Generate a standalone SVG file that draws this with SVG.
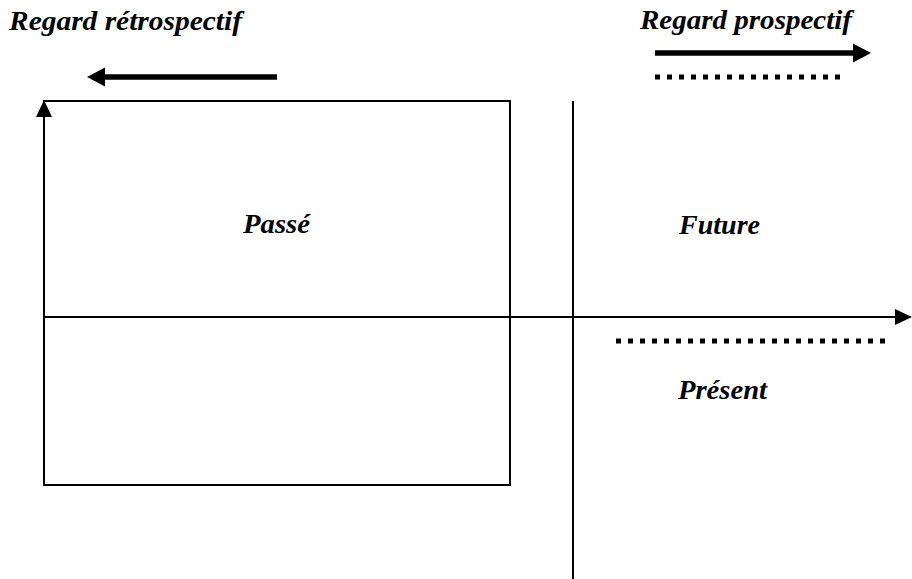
<svg xmlns="http://www.w3.org/2000/svg" width="912" height="579" viewBox="0 0 912 579">
<style>
.t{font-family:"Times New Roman","Liberation Serif","DejaVu Serif",serif;font-weight:700;font-style:italic;font-size:27px;fill:#000}
.thin{stroke:#000;stroke-width:2;fill:none}
.thick{stroke:#000;stroke-width:5.5;fill:none}
.dot{stroke:#000;stroke-width:5;stroke-dasharray:5 7;fill:none}
.head{fill:#000;stroke:none}
</style>
<rect width="912" height="579" fill="#fff"/>
<g id="passe-box">
<rect class="thin" x="44" y="101" width="466" height="384"/>
</g>
<g id="connectors">
<line class="thin" x1="44" y1="485" x2="44" y2="112"/>
<polygon class="head" points="44,100 52,117 36,117"/>
<line class="thin" x1="44" y1="317" x2="900" y2="317"/>
<polygon class="head" points="912,317 895,309 895,325"/>
<line class="thin" x1="573" y1="101" x2="573" y2="579"/>
<line class="thick" x1="277" y1="77" x2="100" y2="77"/>
<polygon class="head" points="87,77 105,67.5 105,86.5"/>
<line class="thick" x1="655" y1="53" x2="858" y2="53"/>
<polygon class="head" points="871,53 853,43.5 853,62.5"/>
<line class="dot" x1="655" y1="77" x2="841" y2="77"/>
<line class="dot" x1="616" y1="341" x2="886" y2="341"/>
</g>
<g id="label-retro"><text class="t" x="9" y="30" textLength="233" lengthAdjust="spacingAndGlyphs">Regard rétrospectif</text></g>
<g id="label-prosp"><text class="t" x="640" y="29" textLength="212" lengthAdjust="spacingAndGlyphs">Regard prospectif</text></g>
<g id="label-passe"><text class="t" x="243" y="233" textLength="67" lengthAdjust="spacingAndGlyphs">Passé</text></g>
<g id="label-future"><text class="t" x="679" y="234" textLength="81" lengthAdjust="spacingAndGlyphs">Future</text></g>
<g id="label-present"><text class="t" x="678" y="399" textLength="89" lengthAdjust="spacingAndGlyphs">Présent</text></g>
</svg>
